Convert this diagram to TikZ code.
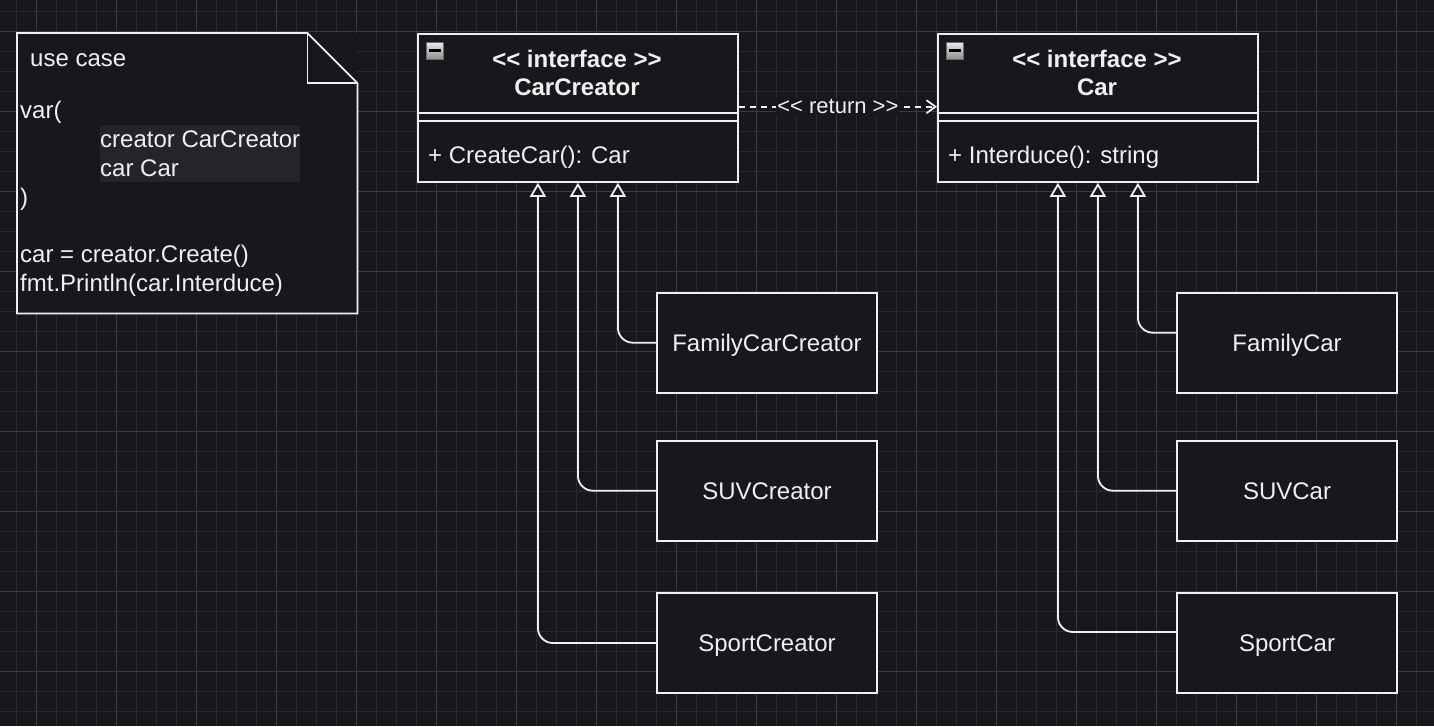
\documentclass[tikz,border=0pt]{standalone}
\usepackage{fontspec}
\setmainfont{Liberation Sans}
\usetikzlibrary{arrows.meta}
\definecolor{bg}{HTML}{18171C}
\definecolor{gridminor}{HTML}{2A292E}
\definecolor{gridmajor}{HTML}{3B3A3F}
\definecolor{fg}{HTML}{F0F0F0}
\definecolor{hl}{HTML}{252429}
\definecolor{icontop}{HTML}{EAEAEA}
\definecolor{iconbot}{HTML}{8C8C8C}
\definecolor{icondraw}{HTML}{6A6A70}
\begin{document}
\begin{tikzpicture}[x=1pt,y=-1pt,
  txt/.style={inner sep=0pt, text=fg, font=\fontsize{24}{29}\selectfont},
  boldtxt/.style={inner sep=0pt, text=fg, font=\fontsize{24}{29}\selectfont\bfseries},
  box/.style={draw=fg, line width=1.8pt, fill=bg, inner sep=0pt},
  clsbox/.style={box, minimum width=320pt, minimum height=148pt, anchor=north west},
  subbox/.style={box, text=fg, minimum width=220pt, minimum height=100pt, text height=17pt, text depth=0pt, font=\fontsize{24}{29}\selectfont},
  inh/.style={draw=fg, line width=1.8pt, rounded corners=15pt, -{Triangle[length=14pt,width=16pt,fill=bg]}},
  ret/.style={draw=fg, line width=1.8pt, dash pattern=on 6pt off 5pt, -{Straight Barb[length=9pt,width=13pt]}},
  iconbox/.style={draw=icondraw, line width=0.8pt, top color=icontop, bottom color=iconbot, minimum size=17pt, inner sep=0pt},
  sep/.style={draw=fg, line width=1.8pt},
]
% background and grid
\fill[bg] (0,0) rectangle (1434,726);
\useasboundingbox (0,0) rectangle (1434,726);
\foreach \i in {0,...,70} {\draw[gridminor, line width=1pt] ({16.7+20*\i},0) -- ({16.7+20*\i},726);}
\foreach \i in {0,...,35} {\draw[gridminor, line width=1pt] (0,{11.7+20*\i}) -- (1434,{11.7+20*\i});}
\foreach \i in {0,...,17} {\draw[gridmajor, line width=1pt] ({36.7+80*\i},0) -- ({36.7+80*\i},726);}
\foreach \i in {0,...,8} {\draw[gridmajor, line width=1pt] (0,{31.7+80*\i}) -- (1434,{31.7+80*\i});}

% note
\node[fill=bg, inner sep=0pt, minimum width=340pt, minimum height=280pt, anchor=north west] (note) at (17,33) {};
\draw[sep, line join=miter] (note.north west) -- ([xshift=-50pt]note.north east) -- ([yshift=-50pt]note.north east) -- (note.south east) -- (note.south west) -- cycle;
\draw[sep] ([xshift=-50pt]note.north east) -- ([xshift=-50pt,yshift=-50pt]note.north east) -- ([yshift=-50pt]note.north east);
\fill[hl] (100,125) rectangle (300,182);
\node[txt, anchor=base west] (n1) at (30,66.7) {use case};
\node[txt, anchor=base west] (n2) at (20,118) {var(};
\node[txt, anchor=base west] (n3) at (100,147.5) {creator CarCreator};
\node[txt, anchor=base west] (n4) at (100,176.5) {car Car};
\node[txt, anchor=base west] (n5) at (20,205) {)};
\node[txt, anchor=base west] (n6) at (20,262.7) {car = creator.Create()};
\node[txt, anchor=base west] (n7) at (20,291.7) {fmt.Println(car.Interduce)};

% interface CarCreator
\node[clsbox] (cc) at (417,33) {};
\draw[sep] ([yshift=-80pt]cc.north west) -- ([yshift=-80pt]cc.north east);
\draw[sep] ([yshift=-88pt]cc.north west) -- ([yshift=-88pt]cc.north east);
\node[boldtxt, anchor=base] (cct1) at (577,67.5) {{<}{<} interface {>}{>}};
\node[boldtxt, anchor=base] (cct2) at (577,95) {CarCreator};
\node[txt, anchor=base west] (ccm) at (428,163) {+ CreateCar(): Car};
\node[iconbox] (ccicon) at (435,50.7) {};
\draw[black, line width=2.5pt] ([xshift=-6pt]ccicon.center) -- ([xshift=6pt]ccicon.center);

% interface Car
\node[clsbox] (car) at (937,33) {};
\draw[sep] ([yshift=-80pt]car.north west) -- ([yshift=-80pt]car.north east);
\draw[sep] ([yshift=-88pt]car.north west) -- ([yshift=-88pt]car.north east);
\node[boldtxt, anchor=base] (cart1) at (1097,67.5) {{<}{<} interface {>}{>}};
\node[boldtxt, anchor=base] (cart2) at (1097,95) {Car};
\node[txt, anchor=base west] (carm) at (948,163) {+ Interduce(): string};
\node[iconbox] (caricon) at (955,50.7) {};
\draw[black, line width=2.5pt] ([xshift=-6pt]caricon.center) -- ([xshift=6pt]caricon.center);

% return dependency
\coordinate (rety) at (0,106.7);
\draw[ret] (cc.east |- rety) -- (car.west |- rety)
  node[midway, fill=bg, inner sep=1pt, text=fg, font=\fontsize{22}{26}\selectfont] (retlbl) {{<}{<} return {>}{>}};

% concrete creators
\node[subbox] (fcc) at (767,342.7) {FamilyCarCreator};
\node[subbox] (suvc) at (767,490.7) {SUVCreator};
\node[subbox] (spc) at (767,643) {SportCreator};
% concrete cars
\node[subbox] (fcar) at (1287,342.7) {FamilyCar};
\node[subbox] (suvcar) at (1287,490.7) {SUVCar};
\node[subbox] (spcar) at (1287,643) {SportCar};

% inheritance
\draw[inh] (fcc.west) -| ([xshift=40pt]cc.south);
\draw[inh] (suvc.west) -| (cc.south);
\draw[inh] (spc.west) -| ([xshift=-40pt]cc.south);
\draw[inh] ([yshift=10pt]fcar.west) -| ([xshift=40pt]car.south);
\draw[inh] (suvcar.west) -| (car.south);
\draw[inh] ([yshift=11pt]spcar.west) -| ([xshift=-40pt]car.south);
\end{tikzpicture}
\end{document}
